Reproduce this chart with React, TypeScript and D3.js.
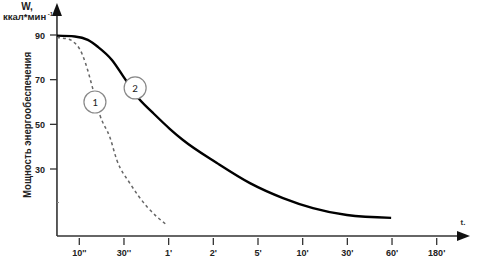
import React from "react";
import * as d3 from "d3";

const timeLabels = ["10''", "30''", "1'", "2'", "5'", "10'", "30'", "60'", "180'"];
const yTicks = [30, 50, 70, 90];
const yMinorTicks = [15];

// curve 2 (solid): [time position index, W value]
const curve2Idx = [-0.5, -0.1, 0.19, 0.42, 0.73, 0.98, 1.34, 1.65, 2.03, 2.32, 3.08, 3.82, 4.56, 5.23, 5.99, 6.98];
const curve2Val = [89.7, 89.3, 87.8, 84.6, 78.8, 71.6, 61.3, 55.1, 47.9, 43, 32.7, 23.7, 17, 12.5, 9.4, 8.1];

// curve 1 (dashed)
const curve1Idx = [-0.5, -0.25, -0.1, 0.02, 0.13, 0.31, 0.46, 0.69, 0.84, 1.13, 1.52, 1.96];
const curve1Val = [88.8, 88.2, 86.4, 83.3, 77.9, 65.4, 54.2, 43.9, 34, 23.7, 13, 4.9];

const markerLabels = ["1", "2"];
const markerIdx = [0.35, 1.25];
const markerVal = [60, 66.3];

export default function App() {
  const W = 496, H = 259;
  const x = d3.scaleLinear().domain([0, 8]).range([79.3, 436.7]);
  const y = d3.scaleLinear().domain([0, 90]).range([236, 35]);
  const axisX0 = x(-0.5);
  const axisY0 = y(0);
  const xEnd = 470;
  const yTop = 3;

  const line = d3
    .line<[number, number]>()
    .x((d) => x(d[0]))
    .y((d) => y(d[1]))
    .curve(d3.curveMonotoneX);

  const c2 = curve2Idx.map((v, i) => [v, curve2Val[i]] as [number, number]);
  const c1 = curve1Idx.map((v, i) => [v, curve1Val[i]] as [number, number]);
  const axisColor = "#333";
  const font = "Arial, 'Liberation Sans', sans-serif";

  return (
    <svg width={W} height={H} style={{ position: "absolute", left: 0, top: 0, background: "#fff" }} fontFamily={font}>
      {/* axes */}
      <line x1={axisX0} y1={axisY0} x2={xEnd - 12} y2={axisY0} stroke={axisColor} strokeWidth={1.6} />
      <path d={`M${xEnd},${axisY0} L${xEnd - 13},${axisY0 - 5} L${xEnd - 13},${axisY0 + 5} Z`} fill="#111" />
      <line x1={axisX0} y1={axisY0} x2={axisX0} y2={yTop + 12} stroke={axisColor} strokeWidth={1.6} />
      <path d={`M${axisX0},${yTop} L${axisX0 - 5},${yTop + 13} L${axisX0 + 5},${yTop + 13} Z`} fill="#111" />

      {/* x ticks */}
      {timeLabels.map((t, i) => (
        <g key={t}>
          <line x1={x(i)} x2={x(i)} y1={axisY0 + 2} y2={axisY0 + 9} stroke={axisColor} strokeWidth={1.3} />
          <text x={x(i)} y={axisY0 + 20} textAnchor="middle" fontSize={9} fontWeight="bold" fill="#222">
            {t}
          </text>
        </g>
      ))}
      <text x={463} y={225} fontSize={8} fontWeight="bold" fill="#333" textAnchor="middle">t.</text>

      {/* y ticks */}
      {yTicks.map((v) => (
        <g key={v}>
          <line x1={axisX0 - 7} x2={axisX0} y1={y(v)} y2={y(v)} stroke={axisColor} strokeWidth={1.3} />
          <text x={axisX0 - 12} y={y(v) + 3.5} textAnchor="end" fontSize={9} fontWeight="bold" fill="#222">
            {v}
          </text>
        </g>
      ))}
      {yMinorTicks.map((v) => (
        <line key={v} x1={axisX0} x2={axisX0 + 2} y1={y(v)} y2={y(v)} stroke="#888" strokeWidth={1} />
      ))}

      {/* axis titles */}
      <text x={27} y={10} textAnchor="middle" fontSize={10} fontWeight="bold" fill="#222">W,</text>
      <text x={3} y={20} fontSize={9.5} fontWeight="bold" fill="#222">
        ккал*мин
        <tspan dy={-4} fontSize={6}> -1</tspan>
      </text>
      <text
        transform={`translate(31,${(53 + 197) / 2}) rotate(-90)`}
        textAnchor="middle"
        fontSize={10}
        fontWeight="bold"
        fill="#222"
        textLength={146}
        lengthAdjust="spacingAndGlyphs"
      >
        Мощность энергообеспечения
      </text>

      {/* curves */}
      <path d={line(c1) || ""} fill="none" stroke="#666" strokeWidth={1.5} strokeDasharray="3,3" />
      <path d={line(c2) || ""} fill="none" stroke="#000" strokeWidth={2.4} />

      {/* markers */}
      {markerLabels.map((m, i) => (
        <g key={m}>
          <circle cx={x(markerIdx[i])} cy={y(markerVal[i])} r={11} fill="#fff" stroke="#888" strokeWidth={1.2} />
          <text x={x(markerIdx[i])} y={y(markerVal[i]) + 4} textAnchor="middle" fontSize={11} fill="#222" fontFamily="Calibri, Carlito, 'Liberation Sans', sans-serif">
            {m}
          </text>
        </g>
      ))}
    </svg>
  );
}
